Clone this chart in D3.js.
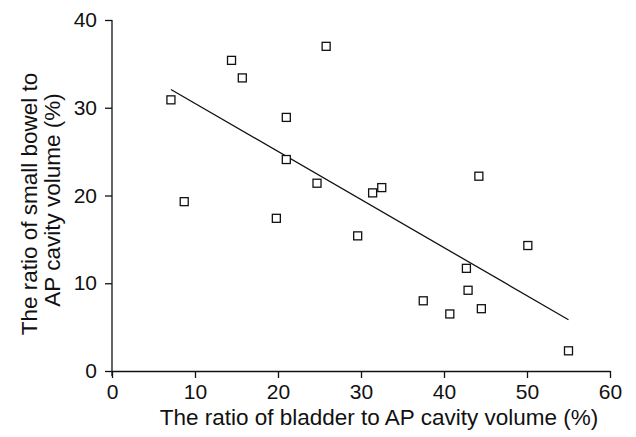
<!DOCTYPE html>
<html>
<head>
<meta charset="utf-8">
<script src="https://cdn.jsdelivr.net/npm/d3@7"></script>
<style>
  body { margin: 0; background: #fff; }
  text { font-family: "Liberation Sans", Arial, sans-serif; fill: #111; }
</style>
</head>
<body>
<div id="chart"></div>
<script>
// bladder ratio (%) vs small bowel ratio (%)
var bladder = [7.1, 14.4, 15.7, 25.8, 21.0, 21.0, 24.7, 31.4, 32.5, 8.7,
               19.8, 44.2, 29.6, 50.1, 42.7, 42.9, 37.5, 40.7, 44.5, 55.0];
var bowel   = [30.9, 35.4, 33.4, 37.0, 28.9, 24.1, 21.4, 20.3, 20.9, 19.3,
               17.4, 22.2, 15.4, 14.3, 11.7, 9.2, 8.0, 6.5, 7.1, 2.3];
var xTicks = [0, 10, 20, 30, 40, 50, 60];
var yTicks = [0, 10, 20, 30, 40];

var width = 636, height = 437,
    margin = {top: 20, right: 26, bottom: 66, left: 112};

var x = d3.scaleLinear().domain([0, 60]).range([margin.left, width - margin.right]),
    y = d3.scaleLinear().domain([0, 40]).range([height - margin.bottom, margin.top]);

var svg = d3.select("#chart")
    .append("svg")
    .attr("width", width)
    .attr("height", height);

var points = bladder.map((b, i) => ({x: b, y: bowel[i]}));

// least squares fit over the data range
var mx = d3.mean(bladder), my = d3.mean(bowel),
    slope = d3.sum(points, d => (d.x - mx) * (d.y - my)) / d3.sum(points, d => (d.x - mx) ** 2),
    icpt = my - slope * mx,
    ext = d3.extent(bladder);

var xAxis = svg.append("g")
    .attr("transform", `translate(0, ${y(0)})`)
    .call(d3.axisBottom(x).tickValues(xTicks).tickSize(7).tickPadding(6).tickSizeOuter(0));
var yAxis = svg.append("g")
    .attr("transform", `translate(${x(0)}, 0)`)
    .call(d3.axisLeft(y).tickValues(yTicks).tickSize(7).tickPadding(8).tickSizeOuter(0));

[xAxis, yAxis].forEach(g => {
    g.select(".domain").attr("stroke", "#111").attr("stroke-width", 1.3);
    g.selectAll(".tick line").attr("stroke", "#111").attr("stroke-width", 1.3);
    g.selectAll(".tick text").style("font-size", "21px").attr("fill", "#111");
});
// y axis runs a little below zero, as in the original
yAxis.select(".domain").attr("d", `M0,${y(40)}V${y(0) + 5}`);

svg.append("line")
    .attr("x1", x(ext[0])).attr("y1", y(icpt + slope * ext[0]))
    .attr("x2", x(ext[1])).attr("y2", y(icpt + slope * ext[1]))
    .attr("stroke", "#111")
    .attr("stroke-width", 1.3);

svg.selectAll("rect.pt")
    .data(points)
    .enter().append("rect")
    .attr("class", "pt")
    .attr("x", d => x(d.x) - 4)
    .attr("y", d => y(d.y) - 4)
    .attr("width", 8)
    .attr("height", 8)
    .attr("fill", "#fff")
    .attr("stroke", "#111")
    .attr("stroke-width", 1.3);

svg.append("text")
    .attr("x", (x(0) + x(60)) / 2 + 18)
    .attr("y", 425)
    .attr("text-anchor", "middle")
    .style("font-size", "22.5px")
    .text("The ratio of bladder to AP cavity volume (%)");

svg.append("text")
    .attr("transform", "translate(37, 204) rotate(-90)")
    .attr("text-anchor", "middle")
    .style("font-size", "22.5px")
    .text("The ratio of small bowel to");
svg.append("text")
    .attr("transform", "translate(60, 200) rotate(-90)")
    .attr("text-anchor", "middle")
    .style("font-size", "22.5px")
    .text("AP cavity volume (%)");
</script>
</body>
</html>
